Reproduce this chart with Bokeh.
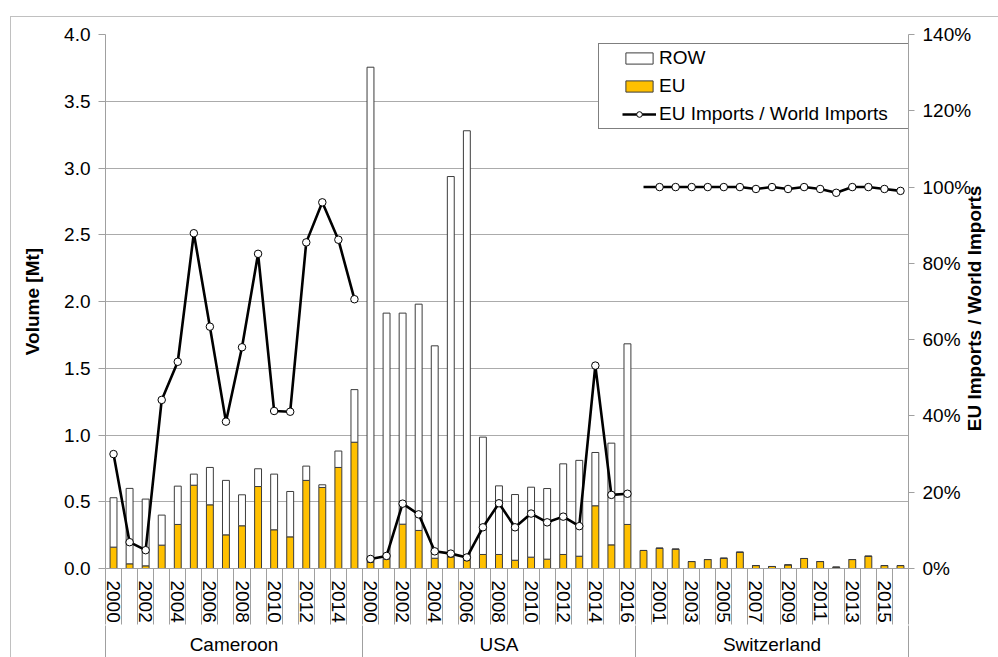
import math
from bokeh.plotting import figure
from bokeh.models import (Range1d, LinearAxis, FixedTicker, SingleIntervalTicker,
                          NumeralTickFormatter, ColumnDataSource, Legend, LegendItem)
from bokeh.embed import file_html
from bokeh.resources import INLINE

# ---------------- data ----------------
countries = ["Cameroon", "USA", "Switzerland"]

cameroon_years = [2000, 2001, 2002, 2003, 2004, 2005, 2006, 2007, 2008, 2009,
                  2010, 2011, 2012, 2013, 2014, 2015]
cameroon_eu = [0.16, 0.035, 0.02, 0.175, 0.33, 0.624, 0.477, 0.252, 0.32, 0.614,
               0.29, 0.237, 0.66, 0.607, 0.757, 0.946]
cameroon_row = [0.37, 0.565, 0.50, 0.225, 0.287, 0.083, 0.28, 0.408, 0.232, 0.133,
                0.417, 0.34, 0.107, 0.02, 0.123, 0.394]
cameroon_ratio = [0.30, 0.069, 0.048, 0.442, 0.542, 0.879, 0.634, 0.385, 0.58, 0.825,
                  0.413, 0.411, 0.855, 0.96, 0.862, 0.706]

usa_years = [2000, 2001, 2002, 2003, 2004, 2005, 2006, 2007, 2008, 2009,
             2010, 2011, 2012, 2013, 2014, 2015, 2016]
usa_eu = [0.045, 0.07, 0.332, 0.285, 0.077, 0.087, 0.06, 0.105, 0.105, 0.062,
          0.085, 0.07, 0.105, 0.092, 0.47, 0.177, 0.33]
usa_row = [3.71, 1.843, 1.581, 1.695, 1.591, 2.849, 3.219, 0.879, 0.514, 0.492,
           0.524, 0.529, 0.679, 0.718, 0.399, 0.762, 1.353]
usa_ratio = [0.025, 0.033, 0.17, 0.142, 0.045, 0.039, 0.029, 0.108, 0.171, 0.108,
             0.144, 0.121, 0.136, 0.111, 0.532, 0.193, 0.196]

swiss_years = [2000, 2001, 2002, 2003, 2004, 2005, 2006, 2007, 2008, 2009,
               2010, 2011, 2012, 2013, 2014, 2015, 2016]
swiss_eu = [0.135, 0.152, 0.145, 0.052, 0.067, 0.077, 0.122, 0.022, 0.015, 0.027,
            0.075, 0.052, 0.01, 0.067, 0.092, 0.022, 0.022]
swiss_row = [0.0, 0.0, 0.0, 0.0, 0.0, 0.0, 0.0, 0.0, 0.0, 0.0,
             0.0, 0.0, 0.0, 0.0, 0.0, 0.0, 0.0]
swiss_ratio = [1.0, 1.0, 1.0, 1.0, 1.0, 1.0, 1.0, 0.995, 1.0, 0.995,
               1.0, 0.995, 0.985, 1.0, 1.0, 0.995, 0.99]
swiss_first_marker_year = 2001   # the 2000 point has no marker in the original

left_ticks_interval = 0.5
right_ticks = [0.0, 0.2, 0.4, 0.6, 0.8, 1.0, 1.2, 1.4]

# ---------------- build positions ----------------
groups = [
    (cameroon_years, cameroon_eu, cameroon_row, cameroon_ratio),
    (usa_years, usa_eu, usa_row, usa_ratio),
    (swiss_years, swiss_eu, swiss_row, swiss_ratio),
]
xs_all, eu_all, row_all, years_all = [], [], [], []
line_data = []
group_bounds = [-0.5]
group_centers = []
offset = 0
for gi, (years, eu, row, ratio) in enumerate(groups):
    n = len(years)
    xs = [offset + i for i in range(n)]
    xs_all += xs
    eu_all += eu
    row_all += row
    years_all += years
    line_data.append((xs, ratio, years))
    group_centers.append(offset + (n - 1) / 2)
    offset += n
    group_bounds.append(offset - 0.5)
total = offset

FONT = "Liberation Sans"
GRID = "#ababab"
AXIS = "#a0a0a0"

p = figure(width=998, height=657,
           x_range=Range1d(-0.5, total - 0.5), y_range=Range1d(0, 4),
           output_backend="svg", toolbar_location=None, x_axis_location=None,
           min_border_left=105, min_border_top=34, min_border_right=0, min_border_bottom=0,
           border_fill_color=None, background_fill_color="#ffffff",
           outline_line_color=None)
p.styles = {"background": "linear-gradient(#c0c0c0, #c0c0c0) 10px 16px / 100% 1px no-repeat, "
                          "linear-gradient(#c0c0c0, #c0c0c0) 10px 16px / 1px 100% no-repeat, #ffffff"}
p.extra_y_ranges = {"pct": Range1d(0, 1.4)}
p.xgrid.visible = False
p.ygrid.grid_line_color = GRID
p.ygrid.grid_line_width = 1

# left axis
ya = p.yaxis[0]
ya.ticker = SingleIntervalTicker(interval=left_ticks_interval, num_minor_ticks=0)
ya.formatter = NumeralTickFormatter(format="0.0")
ya.axis_label = "Volume [Mt]"
ya.axis_label_text_font = FONT
ya.axis_label_text_font_style = "bold"
ya.axis_label_text_font_size = "19px"
ya.axis_label_text_color = "#000000"
ya.axis_label_standoff = 18
ya.major_label_text_font = FONT
ya.major_label_text_font_size = "19px"
ya.major_label_text_color = "#000000"
ya.major_label_standoff = 8
ya.major_tick_out = 7
ya.major_tick_in = 0
ya.minor_tick_line_color = None
ya.axis_line_color = AXIS
ya.major_tick_line_color = AXIS

# right axis
right_title = "EU Imports / World Imports"
ra = LinearAxis(y_range_name="pct", ticker=FixedTicker(ticks=right_ticks),
                formatter=NumeralTickFormatter(format="0%"))
props = ra.properties()
if "axis_label_orientation" in props and "axis_label_align" in props:
    # read bottom-to-top like the original; text starts at the bottom anchor,
    # so lead it with no-break spaces to centre it on the axis
    ra.axis_label_orientation = math.pi / 2
    ra.axis_label_align = "start"
    ra.axis_label = "\u00a0" * 26 + right_title
else:
    ra.axis_label = right_title
ra.axis_label_text_font = FONT
ra.axis_label_text_font_style = "bold"
ra.axis_label_text_font_size = "19px"
ra.axis_label_text_color = "#000000"
ra.axis_label_standoff = 0
ra.major_label_text_font = FONT
ra.major_label_text_font_size = "19px"
ra.major_label_text_color = "#000000"
ra.major_label_standoff = 8
ra.major_tick_out = 6
ra.major_tick_in = 0
ra.minor_tick_line_color = None
ra.axis_line_color = AXIS
ra.major_tick_line_color = AXIS
p.add_layout(ra, "right")

# year axis (separators drawn as long minor ticks, labels pulled back beside them)
year_ticks = [float(x) for x in xs_all[::2]]
year_over = {float(x): str(y) for x, y in zip(xs_all[::2], years_all[::2])}
cat_bounds = [i - 0.5 for i in range(total + 1)]
xa = LinearAxis(ticker=FixedTicker(ticks=year_ticks, minor_ticks=cat_bounds),
                major_label_overrides=year_over)
xa.major_label_orientation = "vertical"
xa.major_label_text_font = FONT
xa.major_label_text_font_size = "19px"
xa.major_label_text_color = "#000000"
xa.minor_tick_out = 56
xa.minor_tick_in = 0
xa.major_label_standoff = 12 - 56
xa.major_tick_out = 0
xa.major_tick_in = 0
xa.major_tick_line_color = None
xa.minor_tick_line_color = AXIS
xa.axis_line_color = AXIS
p.add_layout(xa, "below")

# country axis
ca = LinearAxis(ticker=FixedTicker(ticks=[float(c) for c in group_centers],
                                   minor_ticks=group_bounds),
                major_label_overrides={float(c): n for c, n in zip(group_centers, countries)})
ca.major_label_text_font = FONT
ca.major_label_text_font_size = "19px"
ca.major_label_text_color = "#000000"
ca.minor_tick_out = 40
ca.minor_tick_in = 0
ca.major_label_standoff = 8 - 40
ca.major_tick_out = 0
ca.major_tick_in = 0
ca.major_tick_line_color = None
ca.minor_tick_line_color = AXIS
ca.axis_line_color = None
p.add_layout(ca, "below")

# bars
src = ColumnDataSource(dict(x=xs_all, eu=eu_all, row=row_all))
bars = p.vbar_stack(["eu", "row"], x="x", width=0.43, source=src,
                    fill_color=["#FFC000", "#ffffff"], line_color="#3c3c3c", line_width=1)
r_eu, r_row = bars

# ratio lines
line_renderers, marker_renderers = [], []
for gi, (xs, ratio, years) in enumerate(line_data):
    lr = p.line(xs, ratio, y_range_name="pct", line_color="#000000", line_width=2.6)
    if gi == 2:
        mx = [x for x, y in zip(xs, years) if y >= swiss_first_marker_year]
        my = [r for r, y in zip(ratio, years) if y >= swiss_first_marker_year]
    else:
        mx, my = xs, ratio
    mr = p.scatter(mx, my, y_range_name="pct", marker="circle", size=7.5,
                   fill_color="#ffffff", line_color="#000000", line_width=1)
    line_renderers.append(lr)
    marker_renderers.append(mr)

legend = Legend(items=[
    LegendItem(label="ROW", renderers=[r_row]),
    LegendItem(label="EU", renderers=[r_eu]),
    LegendItem(label="EU Imports / World Imports",
               renderers=[line_renderers[0], marker_renderers[0]]),
], location=(493, 439))
legend.margin = 0
legend.padding = 3
legend.spacing = 6
legend.glyph_width = 34
legend.glyph_height = 14
legend.label_standoff = 3
legend.label_width = 246
legend.label_text_font = FONT
legend.label_text_font_size = "19px"
legend.label_text_color = "#000000"
legend.border_line_color = "#000000"
legend.border_line_width = 1
legend.background_fill_color = "#ffffff"
legend.background_fill_alpha = 1.0
legend.title = "\u00a0"
legend.title_location = "left"
legend.title_text_font_size = "12px"
legend.title_standoff = 6
p.add_layout(legend)

open("out.html", "w").write(file_html(p, INLINE))
